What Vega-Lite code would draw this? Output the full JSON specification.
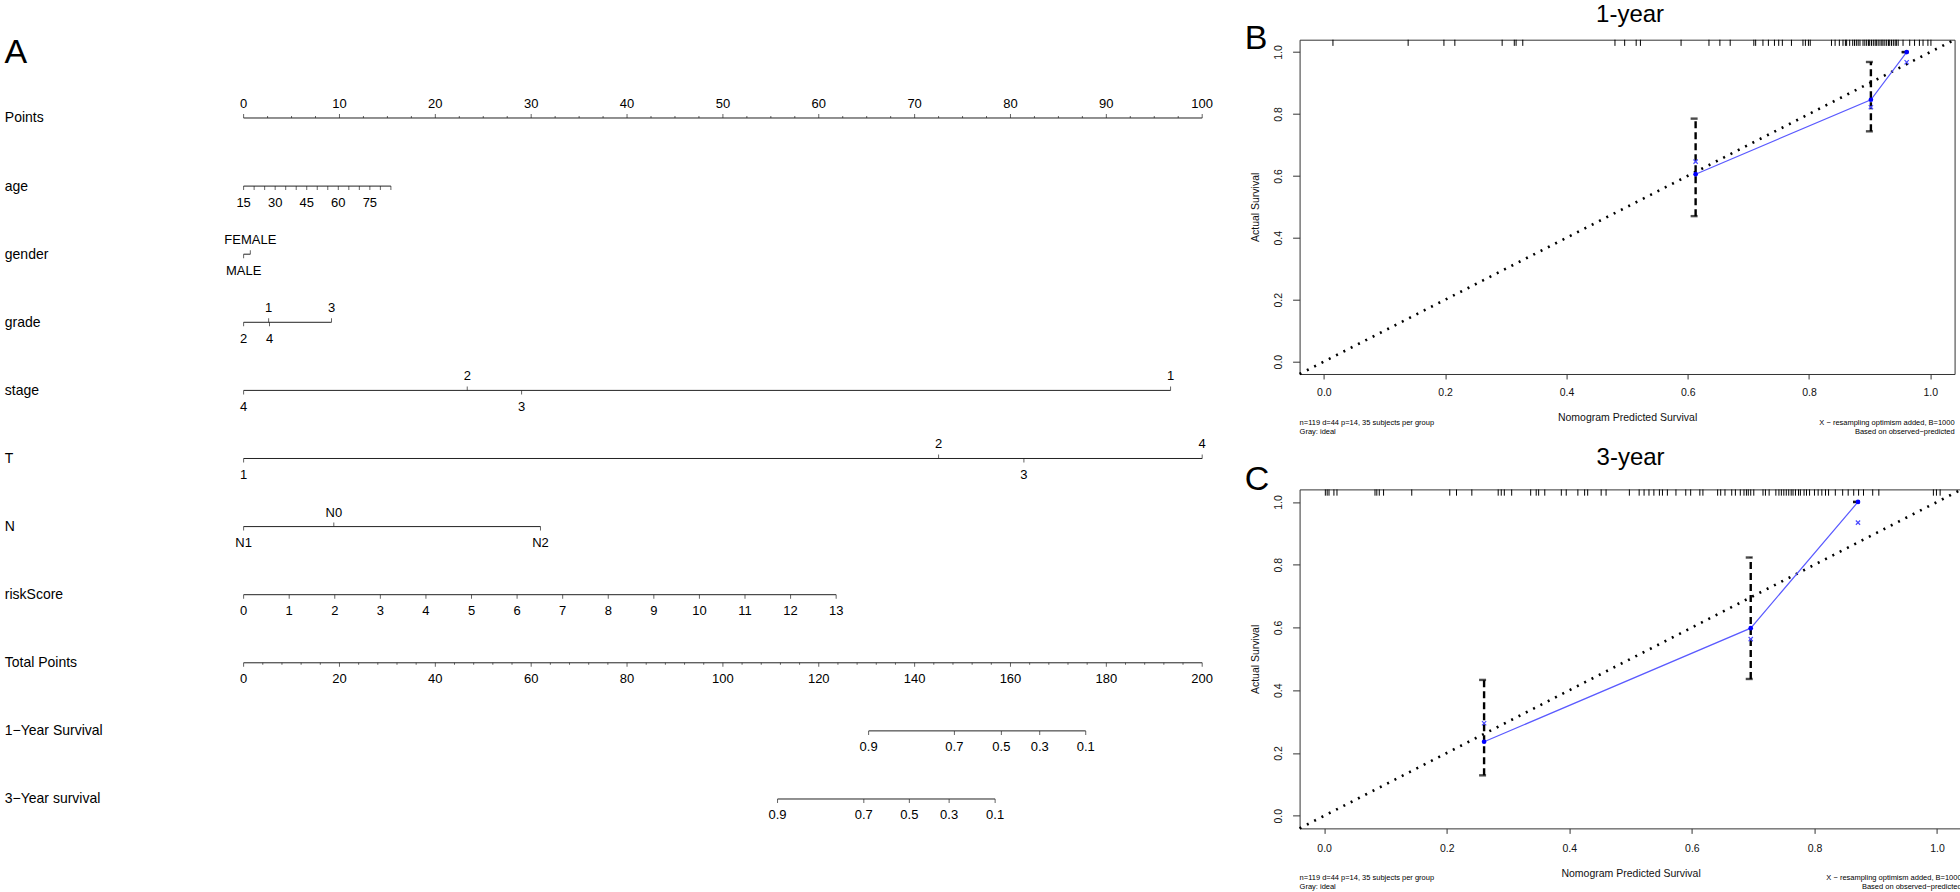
{
  "$schema": "https://vega.github.io/schema/vega-lite/v6.json",
  "background": "white",
  "padding": {"left": 3.6, "top": 2.7, "right": 0, "bottom": 0},
  "spacing": 30,
  "config": {
    "font": "Liberation Sans",
    "view": {"stroke": "#333", "strokeWidth": 1},
    "axis": {"labelFont": "Liberation Sans", "titleFont": "Liberation Sans", "labelColor": "#111", "titleColor": "#111", "tickColor": "#333", "domain": false, "grid": false, "titleFontWeight": "normal", "labelFontSize": 10.5, "titleFontSize": 10.5},
    "title": {"font": "Liberation Sans", "fontWeight": "normal", "color": "black"},
    "text": {"font": "Liberation Sans", "color": "black"}
  },
  "datasets": {
    "nomoPts": [
      {"row": "Points", "pts": 0, "lab": "0", "side": "above", "kind": "major"},
      {"row": "Points", "pts": 2.5, "side": "above", "kind": "minor"},
      {"row": "Points", "pts": 5, "side": "above", "kind": "minor"},
      {"row": "Points", "pts": 7.5, "side": "above", "kind": "minor"},
      {"row": "Points", "pts": 10, "lab": "10", "side": "above", "kind": "major"},
      {"row": "Points", "pts": 12.5, "side": "above", "kind": "minor"},
      {"row": "Points", "pts": 15, "side": "above", "kind": "minor"},
      {"row": "Points", "pts": 17.5, "side": "above", "kind": "minor"},
      {"row": "Points", "pts": 20, "lab": "20", "side": "above", "kind": "major"},
      {"row": "Points", "pts": 22.5, "side": "above", "kind": "minor"},
      {"row": "Points", "pts": 25, "side": "above", "kind": "minor"},
      {"row": "Points", "pts": 27.5, "side": "above", "kind": "minor"},
      {"row": "Points", "pts": 30, "lab": "30", "side": "above", "kind": "major"},
      {"row": "Points", "pts": 32.5, "side": "above", "kind": "minor"},
      {"row": "Points", "pts": 35, "side": "above", "kind": "minor"},
      {"row": "Points", "pts": 37.5, "side": "above", "kind": "minor"},
      {"row": "Points", "pts": 40, "lab": "40", "side": "above", "kind": "major"},
      {"row": "Points", "pts": 42.5, "side": "above", "kind": "minor"},
      {"row": "Points", "pts": 45, "side": "above", "kind": "minor"},
      {"row": "Points", "pts": 47.5, "side": "above", "kind": "minor"},
      {"row": "Points", "pts": 50, "lab": "50", "side": "above", "kind": "major"},
      {"row": "Points", "pts": 52.5, "side": "above", "kind": "minor"},
      {"row": "Points", "pts": 55, "side": "above", "kind": "minor"},
      {"row": "Points", "pts": 57.5, "side": "above", "kind": "minor"},
      {"row": "Points", "pts": 60, "lab": "60", "side": "above", "kind": "major"},
      {"row": "Points", "pts": 62.5, "side": "above", "kind": "minor"},
      {"row": "Points", "pts": 65, "side": "above", "kind": "minor"},
      {"row": "Points", "pts": 67.5, "side": "above", "kind": "minor"},
      {"row": "Points", "pts": 70, "lab": "70", "side": "above", "kind": "major"},
      {"row": "Points", "pts": 72.5, "side": "above", "kind": "minor"},
      {"row": "Points", "pts": 75, "side": "above", "kind": "minor"},
      {"row": "Points", "pts": 77.5, "side": "above", "kind": "minor"},
      {"row": "Points", "pts": 80, "lab": "80", "side": "above", "kind": "major"},
      {"row": "Points", "pts": 82.5, "side": "above", "kind": "minor"},
      {"row": "Points", "pts": 85, "side": "above", "kind": "minor"},
      {"row": "Points", "pts": 87.5, "side": "above", "kind": "minor"},
      {"row": "Points", "pts": 90, "lab": "90", "side": "above", "kind": "major"},
      {"row": "Points", "pts": 92.5, "side": "above", "kind": "minor"},
      {"row": "Points", "pts": 95, "side": "above", "kind": "minor"},
      {"row": "Points", "pts": 97.5, "side": "above", "kind": "minor"},
      {"row": "Points", "pts": 100, "lab": "100", "side": "above", "kind": "major"},
      {"row": "age", "pts": 0, "lab": "15", "side": "below", "kind": "major"},
      {"row": "age", "pts": 1.098, "side": "below", "kind": "major"},
      {"row": "age", "pts": 2.195, "side": "below", "kind": "major"},
      {"row": "age", "pts": 3.293, "lab": "30", "side": "below", "kind": "major"},
      {"row": "age", "pts": 4.39, "side": "below", "kind": "major"},
      {"row": "age", "pts": 5.488, "side": "below", "kind": "major"},
      {"row": "age", "pts": 6.585, "lab": "45", "side": "below", "kind": "major"},
      {"row": "age", "pts": 7.683, "side": "below", "kind": "major"},
      {"row": "age", "pts": 8.78, "side": "below", "kind": "major"},
      {"row": "age", "pts": 9.878, "lab": "60", "side": "below", "kind": "major"},
      {"row": "age", "pts": 10.975, "side": "below", "kind": "major"},
      {"row": "age", "pts": 12.073, "side": "below", "kind": "major"},
      {"row": "age", "pts": 13.17, "lab": "75", "side": "below", "kind": "major"},
      {"row": "age", "pts": 14.268, "side": "below", "kind": "major"},
      {"row": "age", "pts": 15.365, "side": "below", "kind": "major"},
      {"row": "gender", "pts": 0, "lab": "MALE", "side": "below", "kind": "major"},
      {"row": "gender", "pts": 0.7, "lab": "FEMALE", "side": "above", "kind": "major"},
      {"row": "grade", "pts": 0, "lab": "2", "side": "below", "kind": "major"},
      {"row": "grade", "pts": 2.7, "lab": "4", "side": "below", "kind": "major"},
      {"row": "grade", "pts": 2.61, "lab": "1", "side": "above", "kind": "major"},
      {"row": "grade", "pts": 9.17, "lab": "3", "side": "above", "kind": "major"},
      {"row": "stage", "pts": 0, "lab": "4", "side": "below", "kind": "major"},
      {"row": "stage", "pts": 23.33, "lab": "2", "side": "above", "kind": "major"},
      {"row": "stage", "pts": 29.0, "lab": "3", "side": "below", "kind": "major"},
      {"row": "stage", "pts": 96.7, "lab": "1", "side": "above", "kind": "major"},
      {"row": "T", "pts": 0, "lab": "1", "side": "below", "kind": "major"},
      {"row": "T", "pts": 72.5, "lab": "2", "side": "above", "kind": "major"},
      {"row": "T", "pts": 81.4, "lab": "3", "side": "below", "kind": "major"},
      {"row": "T", "pts": 100, "lab": "4", "side": "above", "kind": "major"},
      {"row": "N", "pts": 0, "lab": "N1", "side": "below", "kind": "major"},
      {"row": "N", "pts": 9.41, "lab": "N0", "side": "above", "kind": "major"},
      {"row": "N", "pts": 30.97, "lab": "N2", "side": "below", "kind": "major"},
      {"row": "riskScore", "pts": 0, "lab": "0", "side": "below", "kind": "major"},
      {"row": "riskScore", "pts": 4.755, "lab": "1", "side": "below", "kind": "major"},
      {"row": "riskScore", "pts": 9.51, "lab": "2", "side": "below", "kind": "major"},
      {"row": "riskScore", "pts": 14.265, "lab": "3", "side": "below", "kind": "major"},
      {"row": "riskScore", "pts": 19.02, "lab": "4", "side": "below", "kind": "major"},
      {"row": "riskScore", "pts": 23.775, "lab": "5", "side": "below", "kind": "major"},
      {"row": "riskScore", "pts": 28.53, "lab": "6", "side": "below", "kind": "major"},
      {"row": "riskScore", "pts": 33.285, "lab": "7", "side": "below", "kind": "major"},
      {"row": "riskScore", "pts": 38.04, "lab": "8", "side": "below", "kind": "major"},
      {"row": "riskScore", "pts": 42.795, "lab": "9", "side": "below", "kind": "major"},
      {"row": "riskScore", "pts": 47.55, "lab": "10", "side": "below", "kind": "major"},
      {"row": "riskScore", "pts": 52.305, "lab": "11", "side": "below", "kind": "major"},
      {"row": "riskScore", "pts": 57.06, "lab": "12", "side": "below", "kind": "major"},
      {"row": "riskScore", "pts": 61.815, "lab": "13", "side": "below", "kind": "major"}
    ],
    "nomoTot": [
      {"row": "Total Points", "total": 0, "lab": "0", "side": "below", "kind": "major"},
      {"row": "Total Points", "total": 4, "side": "below", "kind": "minor"},
      {"row": "Total Points", "total": 8, "side": "below", "kind": "minor"},
      {"row": "Total Points", "total": 12, "side": "below", "kind": "minor"},
      {"row": "Total Points", "total": 16, "side": "below", "kind": "minor"},
      {"row": "Total Points", "total": 20, "lab": "20", "side": "below", "kind": "major"},
      {"row": "Total Points", "total": 24, "side": "below", "kind": "minor"},
      {"row": "Total Points", "total": 28, "side": "below", "kind": "minor"},
      {"row": "Total Points", "total": 32, "side": "below", "kind": "minor"},
      {"row": "Total Points", "total": 36, "side": "below", "kind": "minor"},
      {"row": "Total Points", "total": 40, "lab": "40", "side": "below", "kind": "major"},
      {"row": "Total Points", "total": 44, "side": "below", "kind": "minor"},
      {"row": "Total Points", "total": 48, "side": "below", "kind": "minor"},
      {"row": "Total Points", "total": 52, "side": "below", "kind": "minor"},
      {"row": "Total Points", "total": 56, "side": "below", "kind": "minor"},
      {"row": "Total Points", "total": 60, "lab": "60", "side": "below", "kind": "major"},
      {"row": "Total Points", "total": 64, "side": "below", "kind": "minor"},
      {"row": "Total Points", "total": 68, "side": "below", "kind": "minor"},
      {"row": "Total Points", "total": 72, "side": "below", "kind": "minor"},
      {"row": "Total Points", "total": 76, "side": "below", "kind": "minor"},
      {"row": "Total Points", "total": 80, "lab": "80", "side": "below", "kind": "major"},
      {"row": "Total Points", "total": 84, "side": "below", "kind": "minor"},
      {"row": "Total Points", "total": 88, "side": "below", "kind": "minor"},
      {"row": "Total Points", "total": 92, "side": "below", "kind": "minor"},
      {"row": "Total Points", "total": 96, "side": "below", "kind": "minor"},
      {"row": "Total Points", "total": 100, "lab": "100", "side": "below", "kind": "major"},
      {"row": "Total Points", "total": 104, "side": "below", "kind": "minor"},
      {"row": "Total Points", "total": 108, "side": "below", "kind": "minor"},
      {"row": "Total Points", "total": 112, "side": "below", "kind": "minor"},
      {"row": "Total Points", "total": 116, "side": "below", "kind": "minor"},
      {"row": "Total Points", "total": 120, "lab": "120", "side": "below", "kind": "major"},
      {"row": "Total Points", "total": 124, "side": "below", "kind": "minor"},
      {"row": "Total Points", "total": 128, "side": "below", "kind": "minor"},
      {"row": "Total Points", "total": 132, "side": "below", "kind": "minor"},
      {"row": "Total Points", "total": 136, "side": "below", "kind": "minor"},
      {"row": "Total Points", "total": 140, "lab": "140", "side": "below", "kind": "major"},
      {"row": "Total Points", "total": 144, "side": "below", "kind": "minor"},
      {"row": "Total Points", "total": 148, "side": "below", "kind": "minor"},
      {"row": "Total Points", "total": 152, "side": "below", "kind": "minor"},
      {"row": "Total Points", "total": 156, "side": "below", "kind": "minor"},
      {"row": "Total Points", "total": 160, "lab": "160", "side": "below", "kind": "major"},
      {"row": "Total Points", "total": 164, "side": "below", "kind": "minor"},
      {"row": "Total Points", "total": 168, "side": "below", "kind": "minor"},
      {"row": "Total Points", "total": 172, "side": "below", "kind": "minor"},
      {"row": "Total Points", "total": 176, "side": "below", "kind": "minor"},
      {"row": "Total Points", "total": 180, "lab": "180", "side": "below", "kind": "major"},
      {"row": "Total Points", "total": 184, "side": "below", "kind": "minor"},
      {"row": "Total Points", "total": 188, "side": "below", "kind": "minor"},
      {"row": "Total Points", "total": 192, "side": "below", "kind": "minor"},
      {"row": "Total Points", "total": 196, "side": "below", "kind": "minor"},
      {"row": "Total Points", "total": 200, "lab": "200", "side": "below", "kind": "major"},
      {"row": "1−Year Survival", "total": 130.4, "lab": "0.9", "side": "below", "kind": "major"},
      {"row": "1−Year Survival", "total": 148.3, "lab": "0.7", "side": "below", "kind": "major"},
      {"row": "1−Year Survival", "total": 158.1, "lab": "0.5", "side": "below", "kind": "major"},
      {"row": "1−Year Survival", "total": 166.1, "lab": "0.3", "side": "below", "kind": "major"},
      {"row": "1−Year Survival", "total": 175.7, "lab": "0.1", "side": "below", "kind": "major"},
      {"row": "3−Year survival", "total": 111.4, "lab": "0.9", "side": "below", "kind": "major"},
      {"row": "3−Year survival", "total": 129.4, "lab": "0.7", "side": "below", "kind": "major"},
      {"row": "3−Year survival", "total": 138.9, "lab": "0.5", "side": "below", "kind": "major"},
      {"row": "3−Year survival", "total": 147.2, "lab": "0.3", "side": "below", "kind": "major"},
      {"row": "3−Year survival", "total": 156.8, "lab": "0.1", "side": "below", "kind": "major"}
    ],
    "ideal": [{"pred": -0.04, "act": -0.04}, {"pred": 1.04, "act": 1.04}],
    "calB": [
      {"pred": 0.613, "obs": 0.6055, "corr": 0.646, "lo": 0.47, "hi": 0.785},
      {"pred": 0.902, "obs": 0.846, "corr": 0.822, "lo": 0.744, "hi": 0.968},
      {"pred": 0.961, "obs": 1.0, "corr": 0.967, "lo": 1.0, "hi": 1.0}
    ],
    "calC": [
      {"pred": 0.261, "obs": 0.236, "corr": 0.295, "lo": 0.129, "hi": 0.433},
      {"pred": 0.696, "obs": 0.598, "corr": 0.563, "lo": 0.436, "hi": 0.823},
      {"pred": 0.871, "obs": 1.0, "corr": 0.934, "lo": 1.0, "hi": 1.0}
    ],
    "rugB": [
      {"pred": 0.015}, {"pred": 0.139}, {"pred": 0.198}, {"pred": 0.216}, {"pred": 0.294}, {"pred": 0.314}, {"pred": 0.317}, {"pred": 0.328}, {"pred": 0.48}, {"pred": 0.496},
      {"pred": 0.515}, {"pred": 0.522}, {"pred": 0.589}, {"pred": 0.635}, {"pred": 0.653}, {"pred": 0.67}, {"pred": 0.709}, {"pred": 0.712}, {"pred": 0.724}, {"pred": 0.733},
      {"pred": 0.743}, {"pred": 0.75}, {"pred": 0.756}, {"pred": 0.771}, {"pred": 0.79}, {"pred": 0.794}, {"pred": 0.799}, {"pred": 0.802}, {"pred": 0.837}, {"pred": 0.843},
      {"pred": 0.85}, {"pred": 0.856}, {"pred": 0.86}, {"pred": 0.862}, {"pred": 0.867}, {"pred": 0.872}, {"pred": 0.875}, {"pred": 0.878}, {"pred": 0.881}, {"pred": 0.884},
      {"pred": 0.889}, {"pred": 0.892}, {"pred": 0.895}, {"pred": 0.898}, {"pred": 0.9}, {"pred": 0.903}, {"pred": 0.906}, {"pred": 0.909}, {"pred": 0.911}, {"pred": 0.914},
      {"pred": 0.917}, {"pred": 0.92}, {"pred": 0.922}, {"pred": 0.925}, {"pred": 0.928}, {"pred": 0.931}, {"pred": 0.933}, {"pred": 0.936}, {"pred": 0.939}, {"pred": 0.942},
      {"pred": 0.944}, {"pred": 0.947}, {"pred": 0.955}, {"pred": 0.966}, {"pred": 0.974}, {"pred": 0.982}, {"pred": 0.988}, {"pred": 0.996}, {"pred": 1.001}
    ],
    "rugC": [
      {"pred": 0.002}, {"pred": 0.005}, {"pred": 0.008}, {"pred": 0.016}, {"pred": 0.021}, {"pred": 0.083}, {"pred": 0.086}, {"pred": 0.09}, {"pred": 0.097}, {"pred": 0.143},
      {"pred": 0.205}, {"pred": 0.216}, {"pred": 0.241}, {"pred": 0.284}, {"pred": 0.289}, {"pred": 0.294}, {"pred": 0.306}, {"pred": 0.337}, {"pred": 0.346}, {"pred": 0.35},
      {"pred": 0.36}, {"pred": 0.387}, {"pred": 0.395}, {"pred": 0.414}, {"pred": 0.425}, {"pred": 0.43}, {"pred": 0.452}, {"pred": 0.46}, {"pred": 0.498}, {"pred": 0.514},
      {"pred": 0.522}, {"pred": 0.53}, {"pred": 0.538}, {"pred": 0.547}, {"pred": 0.552}, {"pred": 0.56}, {"pred": 0.574}, {"pred": 0.59}, {"pred": 0.598}, {"pred": 0.613},
      {"pred": 0.618}, {"pred": 0.642}, {"pred": 0.647}, {"pred": 0.654}, {"pred": 0.665}, {"pred": 0.671}, {"pred": 0.679}, {"pred": 0.685}, {"pred": 0.689}, {"pred": 0.692},
      {"pred": 0.696}, {"pred": 0.701}, {"pred": 0.716}, {"pred": 0.72}, {"pred": 0.726}, {"pred": 0.737}, {"pred": 0.742}, {"pred": 0.746}, {"pred": 0.75}, {"pred": 0.754},
      {"pred": 0.758}, {"pred": 0.762}, {"pred": 0.765}, {"pred": 0.769}, {"pred": 0.774}, {"pred": 0.777}, {"pred": 0.783}, {"pred": 0.787}, {"pred": 0.792}, {"pred": 0.8},
      {"pred": 0.806}, {"pred": 0.812}, {"pred": 0.818}, {"pred": 0.823}, {"pred": 0.834}, {"pred": 0.846}, {"pred": 0.855}, {"pred": 0.864}, {"pred": 0.872}, {"pred": 0.88},
      {"pred": 0.895}, {"pred": 0.905}, {"pred": 0.994}, {"pred": 0.999}, {"pred": 1.005}
    ]
  },
  "hconcat": [
    {
      "width": 958.6,
      "height": 830,
      "view": {"stroke": null},
      "resolve": {"scale": {"x": "independent"}},
      "encoding": {
        "y": {
          "field": "row", "type": "ordinal",
          "scale": {"type": "point", "domain": ["Points", "age", "gender", "grade", "stage", "T", "N", "riskScore", "Total Points", "1−Year Survival", "3−Year survival"], "range": [78.3, 759.3], "padding": 0},
          "axis": {"title": "A", "titleAngle": 0, "titleX": -239.7, "titleY": 22.7, "titleAlign": "left", "titleBaseline": "alphabetic", "titleFontSize": 34, "titleFontWeight": "normal", "titleColor": "black", "labelAlign": "left", "labelPadding": 239.3, "labelFontSize": 14, "labelColor": "black", "labelBaseline": "middle", "ticks": false, "tickSize": 0, "domain": false, "labelLimit": 0}
        }
      },
      "layer": [
        {
          "data": {"name": "nomoPts"},
          "layer": [
            {"mark": {"type": "rule", "color": "#222", "strokeWidth": 1},
             "encoding": {"x": {"aggregate": "min", "field": "pts", "type": "quantitative", "scale": {"domain": [0, 100], "nice": false, "zero": false}, "axis": null}, "x2": {"aggregate": "max", "field": "pts"}}},
            {"transform": [{"filter": "datum.side == 'above' && datum.kind == 'major'"}],
             "mark": {"type": "tick", "orient": "vertical", "size": 4, "thickness": 1, "yOffset": -2, "color": "#222"},
             "encoding": {"x": {"field": "pts", "type": "quantitative", "scale": {"domain": [0, 100], "nice": false, "zero": false}, "axis": null}}},
            {"transform": [{"filter": "datum.side == 'above' && datum.kind == 'minor'"}],
             "mark": {"type": "tick", "orient": "vertical", "size": 2, "thickness": 1, "yOffset": -1, "color": "#222"},
             "encoding": {"x": {"field": "pts", "type": "quantitative", "scale": {"domain": [0, 100], "nice": false, "zero": false}, "axis": null}}},
            {"transform": [{"filter": "datum.side == 'below'"}],
             "mark": {"type": "tick", "orient": "vertical", "size": 4, "thickness": 1, "yOffset": 2, "color": "#222"},
             "encoding": {"x": {"field": "pts", "type": "quantitative", "scale": {"domain": [0, 100], "nice": false, "zero": false}, "axis": null}}},
            {"transform": [{"filter": "datum.side == 'above' && datum.lab != null"}],
             "mark": {"type": "text", "fontSize": 13, "baseline": "middle", "align": "center", "dy": -14, "color": "black"},
             "encoding": {"x": {"field": "pts", "type": "quantitative", "scale": {"domain": [0, 100], "nice": false, "zero": false}, "axis": null}, "text": {"field": "lab"}}},
            {"transform": [{"filter": "datum.side == 'below' && datum.lab != null"}],
             "mark": {"type": "text", "fontSize": 13, "baseline": "middle", "align": "center", "dy": 16.5, "color": "black"},
             "encoding": {"x": {"field": "pts", "type": "quantitative", "scale": {"domain": [0, 100], "nice": false, "zero": false}, "axis": null}, "text": {"field": "lab"}}}
          ]
        },
        {
          "data": {"name": "nomoTot"},
          "layer": [
            {"mark": {"type": "rule", "color": "#222", "strokeWidth": 1},
             "encoding": {"x": {"aggregate": "min", "field": "total", "type": "quantitative", "scale": {"domain": [0, 200], "nice": false, "zero": false}, "axis": null}, "x2": {"aggregate": "max", "field": "total"}}},
            {"transform": [{"filter": "datum.kind == 'major'"}],
             "mark": {"type": "tick", "orient": "vertical", "size": 4, "thickness": 1, "yOffset": 2, "color": "#222"},
             "encoding": {"x": {"field": "total", "type": "quantitative", "scale": {"domain": [0, 200], "nice": false, "zero": false}, "axis": null}}},
            {"transform": [{"filter": "datum.kind == 'minor'"}],
             "mark": {"type": "tick", "orient": "vertical", "size": 2, "thickness": 1, "yOffset": 1, "color": "#222"},
             "encoding": {"x": {"field": "total", "type": "quantitative", "scale": {"domain": [0, 200], "nice": false, "zero": false}, "axis": null}}},
            {"transform": [{"filter": "datum.lab != null"}],
             "mark": {"type": "text", "fontSize": 13, "baseline": "middle", "align": "center", "dy": 16.5, "color": "black"},
             "encoding": {"x": {"field": "total", "type": "quantitative", "scale": {"domain": [0, 200], "nice": false, "zero": false}, "axis": null}, "text": {"field": "lab"}}}
          ]
        }
      ]
    },
    {
      "spacing": 8.7,
      "vconcat": [
        {
          "width": 655,
          "height": 334.3,
          "title": {"text": "1-year", "fontSize": 24, "anchor": "middle", "frame": "group", "baseline": "top", "offset": -5.4, "dx": 3},
          "layer": [
            {"data": {"name": "ideal"},
             "mark": {"type": "line", "color": "black", "strokeWidth": 2.6, "strokeDash": [2, 6.2]},
             "encoding": {
               "x": {"field": "pred", "type": "quantitative", "scale": {"domain": [-0.04, 1.04], "nice": false, "zero": false}, "axis": {"values": [0, 0.2, 0.4, 0.6, 0.8, 1], "format": ".1f", "title": "Nomogram Predicted Survival", "tickSize": 5, "labelPadding": 9, "titlePadding": 14.5, "labelFlush": false}},
               "y": {"field": "act", "type": "quantitative", "scale": {"domain": [-0.04, 1.04], "nice": false, "zero": false}, "axis": {"values": [0, 0.2, 0.4, 0.6, 0.8, 1], "format": ".1f", "title": "Actual Survival", "labelAngle": -90, "tickSize": 7, "labelPadding": 9.5, "titlePadding": 12.5, "labelFlush": false}}
             }},
            {"data": {"name": "rugB"},
             "mark": {"type": "rule", "color": "black", "strokeWidth": 1},
             "encoding": {"x": {"field": "pred", "type": "quantitative"}, "y": {"datum": 1.04, "type": "quantitative"}, "y2": {"datum": 1.02}}},
            {"data": {"name": "calB"},
             "mark": {"type": "rule", "color": "black", "strokeWidth": 2.4, "strokeDash": [7, 4]},
             "encoding": {"x": {"field": "pred", "type": "quantitative"}, "y": {"field": "lo", "type": "quantitative"}, "y2": {"field": "hi"}}},
            {"data": {"name": "calB"},
             "mark": {"type": "tick", "orient": "horizontal", "size": 7, "thickness": 2.4, "color": "black", "xOffset": -1.5},
             "encoding": {"x": {"field": "pred", "type": "quantitative"}, "y": {"field": "lo", "type": "quantitative"}}},
            {"data": {"name": "calB"},
             "mark": {"type": "tick", "orient": "horizontal", "size": 7, "thickness": 2.4, "color": "black", "xOffset": -1.5},
             "encoding": {"x": {"field": "pred", "type": "quantitative"}, "y": {"field": "hi", "type": "quantitative"}}},
            {"data": {"name": "calB"},
             "mark": {"type": "line", "color": "#5a5aff", "strokeWidth": 1.2},
             "encoding": {"x": {"field": "pred", "type": "quantitative"}, "y": {"field": "obs", "type": "quantitative"}}},
            {"data": {"name": "calB"},
             "mark": {"type": "point", "filled": true, "size": 22, "color": "#0000ff", "opacity": 1},
             "encoding": {"x": {"field": "pred", "type": "quantitative"}, "y": {"field": "obs", "type": "quantitative"}}},
            {"data": {"name": "calB"},
             "mark": {"type": "point", "shape": "M-1,-1L1,1M-1,1L1,-1", "filled": false, "size": 18, "color": "#4a4aff", "strokeWidth": 1.2, "opacity": 1},
             "encoding": {"x": {"field": "pred", "type": "quantitative"}, "y": {"field": "corr", "type": "quantitative"}}},
            {"data": {"values": [{}]},
             "mark": {"type": "text", "text": "B", "fontSize": 34, "align": "left", "baseline": "alphabetic", "color": "black"},
             "encoding": {"x": {"datum": -0.1303, "type": "quantitative"}, "y": {"datum": 1.01, "type": "quantitative"}}},
            {"data": {"values": [{}]},
             "mark": {"type": "text", "text": ["n=119 d=44 p=14, 35 subjects per group", "Gray: ideal"], "fontSize": 7.5, "lineHeight": 9.3, "align": "left", "baseline": "top", "color": "black"},
             "encoding": {"x": {"datum": -0.04, "type": "quantitative"}, "y": {"datum": -0.1846, "type": "quantitative"}}},
            {"data": {"values": [{}]},
             "mark": {"type": "text", "text": ["X − resampling optimism added, B=1000", "Based on observed−predicted"], "fontSize": 7.5, "lineHeight": 9.3, "align": "right", "baseline": "top", "color": "black"},
             "encoding": {"x": {"datum": 1.04, "type": "quantitative"}, "y": {"datum": -0.1846, "type": "quantitative"}}}
          ]
        },
        {
          "width": 662,
          "height": 339,
          "title": {"text": "3-year", "fontSize": 24, "anchor": "middle", "frame": "group", "baseline": "top", "offset": -7, "dx": 0},
          "layer": [
            {"data": {"name": "ideal"},
             "mark": {"type": "line", "color": "black", "strokeWidth": 2.6, "strokeDash": [2, 6.2]},
             "encoding": {
               "x": {"field": "pred", "type": "quantitative", "scale": {"domain": [-0.04, 1.04], "nice": false, "zero": false}, "axis": {"values": [0, 0.2, 0.4, 0.6, 0.8, 1], "format": ".1f", "title": "Nomogram Predicted Survival", "tickSize": 5, "labelPadding": 10, "titlePadding": 15.1, "labelFlush": false}},
               "y": {"field": "act", "type": "quantitative", "scale": {"domain": [-0.04, 1.04], "nice": false, "zero": false}, "axis": {"values": [0, 0.2, 0.4, 0.6, 0.8, 1], "format": ".1f", "title": "Actual Survival", "labelAngle": -90, "tickSize": 7, "labelPadding": 9.5, "titlePadding": 12.5, "labelFlush": false}}
             }},
            {"data": {"name": "rugC"},
             "mark": {"type": "rule", "color": "black", "strokeWidth": 1},
             "encoding": {"x": {"field": "pred", "type": "quantitative"}, "y": {"datum": 1.04, "type": "quantitative"}, "y2": {"datum": 1.02}}},
            {"data": {"name": "calC"},
             "mark": {"type": "rule", "color": "black", "strokeWidth": 2.4, "strokeDash": [7, 4]},
             "encoding": {"x": {"field": "pred", "type": "quantitative"}, "y": {"field": "lo", "type": "quantitative"}, "y2": {"field": "hi"}}},
            {"data": {"name": "calC"},
             "mark": {"type": "tick", "orient": "horizontal", "size": 7, "thickness": 2.4, "color": "black", "xOffset": -1.5},
             "encoding": {"x": {"field": "pred", "type": "quantitative"}, "y": {"field": "lo", "type": "quantitative"}}},
            {"data": {"name": "calC"},
             "mark": {"type": "tick", "orient": "horizontal", "size": 7, "thickness": 2.4, "color": "black", "xOffset": -1.5},
             "encoding": {"x": {"field": "pred", "type": "quantitative"}, "y": {"field": "hi", "type": "quantitative"}}},
            {"data": {"name": "calC"},
             "mark": {"type": "line", "color": "#5a5aff", "strokeWidth": 1.2},
             "encoding": {"x": {"field": "pred", "type": "quantitative"}, "y": {"field": "obs", "type": "quantitative"}}},
            {"data": {"name": "calC"},
             "mark": {"type": "point", "filled": true, "size": 22, "color": "#0000ff", "opacity": 1},
             "encoding": {"x": {"field": "pred", "type": "quantitative"}, "y": {"field": "obs", "type": "quantitative"}}},
            {"data": {"name": "calC"},
             "mark": {"type": "point", "shape": "M-1,-1L1,1M-1,1L1,-1", "filled": false, "size": 18, "color": "#4a4aff", "strokeWidth": 1.2, "opacity": 1},
             "encoding": {"x": {"field": "pred", "type": "quantitative"}, "y": {"field": "corr", "type": "quantitative"}}},
            {"data": {"values": [{}]},
             "mark": {"type": "text", "text": "C", "fontSize": 34, "align": "left", "baseline": "alphabetic", "color": "black"},
             "encoding": {"x": {"datum": -0.1294, "type": "quantitative"}, "y": {"datum": 1.038, "type": "quantitative"}}},
            {"data": {"values": [{}]},
             "mark": {"type": "text", "text": ["n=119 d=44 p=14, 35 subjects per group", "Gray: ideal"], "fontSize": 7.5, "lineHeight": 9.3, "align": "left", "baseline": "top", "color": "black"},
             "encoding": {"x": {"datum": -0.04, "type": "quantitative"}, "y": {"datum": -0.1852, "type": "quantitative"}}},
            {"data": {"values": [{}]},
             "mark": {"type": "text", "text": ["X − resampling optimism added, B=1000", "Based on observed−predicted"], "fontSize": 7.5, "lineHeight": 9.3, "align": "right", "baseline": "top", "color": "black"},
             "encoding": {"x": {"datum": 1.04, "type": "quantitative"}, "y": {"datum": -0.1852, "type": "quantitative"}}}
          ]
        }
      ]
    }
  ]
}
